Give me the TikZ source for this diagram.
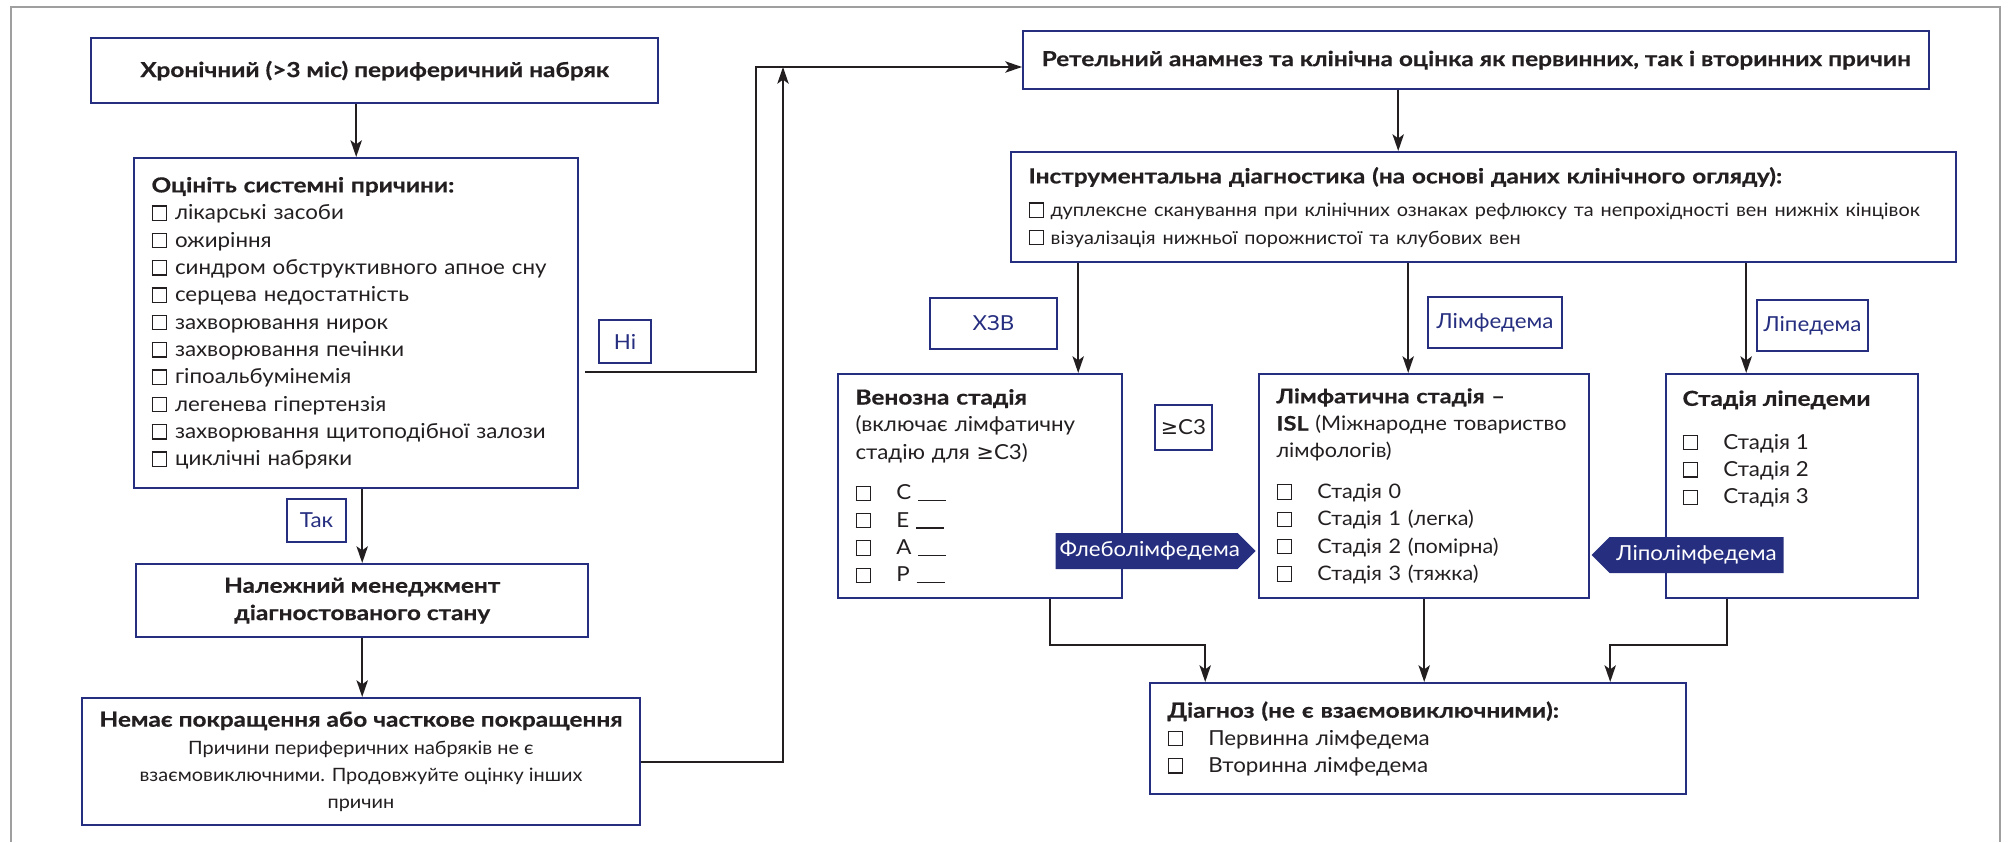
\documentclass[tikz,border=0pt]{standalone}
\usepackage{fontspec}
\setmainfont{Lato}[UprightFeatures={FakeStretch=1.08},BoldFeatures={FakeStretch=1.18,FakeBold=0.6}]
\newfontfamily\symfont{DejaVu Sans}
\usetikzlibrary{arrows.meta,shapes.symbols,calc}

\definecolor{navy}{RGB}{38,46,128}
\definecolor{ink}{RGB}{35,31,32}
\newcommand\chk{{\fboxsep=0pt\fboxrule=0.9pt\fbox{\rule{0pt}{9.8pt}\rule{9.8pt}{0pt}}}}
\newcommand\gesym{{\symfont ≥}}
\newcommand\blank{\rule[-1pt]{21pt}{0.9pt}}

\tikzset{every picture/.style={line width=0.75pt}}
\tikzset{
  box/.style={draw=navy, line width=1.8pt, anchor=north west, inner xsep=13pt, inner ysep=0pt, text=ink, font=\fontsize{15.5}{20.5}\selectfont},
  tag/.style={draw=navy, line width=1.5pt, anchor=north west, inner sep=0pt, text=navy, font=\fontsize{15.5}{18}\selectfont},
  flag/.style={signal, signal to=east, fill=navy, text=white, minimum height=27pt, inner xsep=3pt, inner ysep=0pt, align=center, font=\fontsize{15.5}{18}\selectfont},
  arr/.style={line width=1.5pt, draw=ink, -{Stealth[length=12.5pt,width=8.5pt,inset=3pt]}},
}

\begin{document}
\begin{tikzpicture}[x=0.75pt,y=0.75pt,yscale=-1,xscale=1]
\useasboundingbox (0,0) rectangle (2008,842);

%Frame
\draw[color=gray!75, line width=1pt] (11,842) -- (11,7) -- (2000,7) -- (2000,842);

%Left column
\node[box, minimum width=425.25pt, minimum height=48.75pt, align=center] (chron) at (90,37) {\textbf{Хронічний (>3 міс) периферичний набряк}};
\node[box, text width=307pt, minimum height=247.5pt, align=left] (eval) at (133,157) {\textbf{Оцініть системні причини:}\\
\chk\hspace{6pt}лікарські засоби\\
\chk\hspace{6pt}ожиріння\\
\chk\hspace{6pt}синдром обструктивного апное сну\\
\chk\hspace{6pt}серцева недостатність\\
\chk\hspace{6pt}захворювання нирок\\
\chk\hspace{6pt}захворювання печінки\\
\chk\hspace{6pt}гіпоальбумінемія\\
\chk\hspace{6pt}легенева гіпертензія\\
\chk\hspace{6pt}захворювання щитоподібної залози\\
\chk\hspace{6pt}циклічні набряки};
\node[box, minimum width=339pt, minimum height=54.75pt, align=center] (mgmt) at (135,563) {\textbf{Належний менеджмент}\\ \textbf{діагностованого стану}};
\node[box, minimum width=412.5pt, minimum height=95.25pt, align=center] (noimp) at (81,697) {\textbf{Немає покращення або часткове покращення}\\ \fontsize{13.8}{20.5}\selectfont Причини периферичних набряків не є\\ \fontsize{13.8}{20.5}\selectfont взаємовиключними. Продовжуйте оцінку інших\\ \fontsize{13.8}{20.5}\selectfont причин};

%Right part
\node[box, minimum width=679.5pt, minimum height=43.5pt, align=center] (hist) at (1022,30) {\textbf{Ретельний анамнез та клінічна оцінка як первинних, так і вторинних причин}};
\node[box, text width=682.75pt, minimum height=82.5pt, align=left] (instr) at (1010,151) {\textbf{Інструментальна діагностика (на основі даних клінічного огляду):}\\[6pt]
\fontsize{13.8}{19}\selectfont\mbox{\chk\hspace{5pt}дуплексне сканування при клінічних ознаках рефлюксу та непрохідності вен нижніх кінцівок}\\
\fontsize{13.8}{19}\selectfont\chk\hspace{5pt}візуалізація нижньої порожнистої та клубових вен};
\node[box, text width=187pt, minimum height=168pt, align=left] (venous) at (837,373) {\textbf{Венозна стадія}\\ (включає лімфатичну\\ стадію для \gesym C3)\\[10pt]
\chk\hspace{19pt}C\ \blank\\
\chk\hspace{19pt}E\ \blank\\
\chk\hspace{19pt}A\ \blank\\
\chk\hspace{19pt}P\ \blank};
\node[box, text width=221.5pt, minimum height=168pt, align=left, font=\fontsize{15}{20.5}\selectfont] (lymph) at (1258,373) {\textbf{Лімфатична стадія –}\\ \mbox{\textbf{ISL} (Міжнародне товариство}\\ лімфологів)\\[10pt]
\chk\hspace{19pt}Стадія 0\\
\chk\hspace{19pt}Стадія 1 (легка)\\
\chk\hspace{19pt}Стадія 2 (помірна)\\
\chk\hspace{19pt}Стадія 3 (тяжка)};
\node[box, minimum width=189pt, minimum height=168pt] (lip) at (1665,373) {};
\node[anchor=north west, align=left, inner sep=0pt, text=ink, font=\fontsize{15.5}{20.5}\selectfont] (lipt) at ($(lip.north west)+(17,17)$) {\textbf{Стадія ліпедеми}\\[12pt]
\chk\hspace{19pt}Стадія 1\\
\chk\hspace{19pt}Стадія 2\\
\chk\hspace{19pt}Стадія 3};
\node[box, text width=376pt, minimum height=83.25pt, align=left] (diag) at (1149,682) {\textbf{Діагноз (не є взаємовиключними):}\\
\chk\hspace{19pt}Первинна лімфедема\\
\chk\hspace{19pt}Вторинна лімфедема};

%Tags
\node[tag, minimum width=39pt, minimum height=32.25pt] (no) at (598,319) {Ні};
\node[tag, minimum width=44.25pt, minimum height=32.25pt] (yes) at (286,498) {Так};
\node[tag, minimum width=95.25pt, minimum height=38.25pt] (cvd) at (929,297) {ХЗВ};
\node[tag, minimum width=42.75pt, minimum height=33.75pt, text=ink] (c3) at (1154,404) {\gesym C3};
\node[tag, minimum width=100.5pt, minimum height=38.25pt] (lymtag) at (1427,296) {Лімфедема};
\node[tag, minimum width=83.25pt, minimum height=38.25pt] (liptag) at (1756,299) {Ліпедема};

%Flags
\node[flag, text width=130.5pt, anchor=west] (phlebo) at (1055,551) {Флеболімфедема};
\node[flag, text width=124.5pt, signal to=west, anchor=east] (lipolym) at (1784,555) {Ліполімфедема};

%Connectors
\coordinate (upA) at (756,67);
\coordinate (upB) at (783,67);
\coordinate (midY) at (0,645);
\draw[arr] (eval.north |- chron.south) -- (eval.north);
\draw[arr] (mgmt.north |- eval.south) -- (mgmt.north);
\draw[arr] (mgmt.south) -- (mgmt.south |- noimp.north);
\draw[arr] ($(eval.east)+(6,49)$) -| (upA) -- (upA -| hist.west);
\draw[arr] (noimp.east) -| (upB);
\draw[arr] ([xshift=-58.5pt]hist.south) -- ([xshift=-58.5pt]hist.south |- instr.north);
\draw[arr] ([xshift=73.5pt]venous.north |- instr.south) -- ([xshift=73.5pt]venous.north);
\draw[arr] ([xshift=-12pt]lymph.north |- instr.south) -- ([xshift=-12pt]lymph.north);
\draw[arr] ([xshift=-34.5pt]lip.north |- instr.south) -- ([xshift=-34.5pt]lip.north);
\draw[arr] ([xshift=52.5pt]venous.south) -- ([xshift=52.5pt]venous.south |- midY) -| ([xshift=-159.75pt]diag.north);
\draw[arr] (lymph.south) -- (lymph.south |- diag.north);
\draw[arr] ([xshift=-48.75pt]lip.south) -- ([xshift=-48.75pt]lip.south |- midY) -| ([xshift=144pt]diag.north);

\end{tikzpicture}
\end{document}
